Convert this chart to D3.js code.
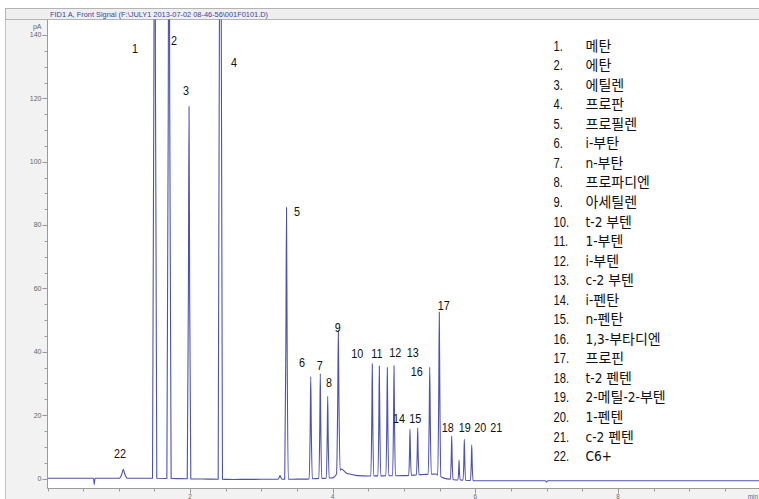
<!DOCTYPE html>
<html>
<head>
<meta charset="utf-8">
<script src="https://cdn.jsdelivr.net/npm/d3@7/dist/d3.min.js"></script>
<style>
  html, body { margin: 0; padding: 0; background: #f3f3f3; }
  svg { display: block; }
</style>
</head>
<body>
<svg id="chart" width="759" height="499"></svg>
<script>
// ---- Peak table (retention time in min, height in pA) ----
const peakNumbers    = [22, 1, 2, 3, 4, 5, 6, 7, 8, 9, 10, 11, 12, 13, 14, 15, 16, 17, 18, 19, 20, 21];
const retentionTimes = [1.063, 1.503, 1.704, 1.985, 2.424, 3.352, 3.692, 3.826, 3.930, 4.079,
                        4.555, 4.654, 4.766, 4.860, 5.084, 5.192, 5.361, 5.495, 5.669, 5.772, 5.846, 5.950];
const peakHeights    = [2.8, 260, 230, 117.5, 330, 85.8, 32.3, 33.1, 25.8, 44.7,
                        35.4, 34.7, 34.2, 34.7, 14.6, 14.8, 33.8, 51.7, 13.7, 6.3, 12.9, 11.3];
const peakHalfWidths = [0.055, 0.03, 0.03, 0.025, 0.03, 0.025, 0.022, 0.02, 0.02, 0.025,
                        0.02, 0.02, 0.02, 0.02, 0.018, 0.018, 0.022, 0.022, 0.018, 0.015, 0.018, 0.018];

// Small unlabelled features of the trace (time, pA)
const minorTimes   = [0.656, 3.261, 7.0];
const minorHeights = [-2.0, 1.2, -0.4];
const minorHalfWidths = [0.012, 0.03, 0.02];

// Baseline drift (time, pA)
const baselineTimes  = [0, 1.4, 2.6, 3.6, 4.0, 4.12, 4.2, 4.35, 4.5, 5.0, 5.3, 5.45, 5.55, 5.7, 6.0, 10];
const baselineValues = [0.1, 0.1, -0.3, -0.2, 0.2, 3.0, 1.6, 0.9, 0.8, 0.9, 1.3, 1.4, 0.2, -0.4, -0.7, -0.7];

// ---- Axis ticks ----
const xMajorTicks = [2, 4, 6, 8];
const xMinorTicks = d3.range(0, 10.01, 0.5);
const yMajorTicks = [0, 20, 40, 60, 80, 100, 120, 140];
const yMinorTicks = d3.range(0, 141, 5);

// ---- Legend ----
const compoundNames = ["메탄", "에탄", "에틸렌", "프로판", "프로필렌", "i-부탄", "n-부탄", "프로파디엔",
  "아세틸렌", "t-2 부텐", "1-부텐", "i-부텐", "c-2 부텐", "i-펜탄", "n-펜탄", "1,3-부타디엔",
  "프로핀", "t-2 펜텐", "2-메틸-2-부텐", "1-펜텐", "c-2 펜텐", "C6+"];

const titleText = "FID1 A, Front Signal (F:\\JULY1 2013-07-02 08-46-56\\001F0101.D)";

// ---- Peak label placement (min, pA) ----
const labelTimes  = [1.017, 1.227, 1.774, 1.942, 2.616, 3.499, 3.569, 3.818, 3.948, 4.070,
                     4.345, 4.621, 4.878, 5.122, 4.930, 5.158, 5.178, 5.557, 5.613, 5.851, 6.070, 6.295];
const labelLevels = [8.0, 135.8, 138.3, 122.6, 131.4, 84.4, 36.8, 35.8, 30.3, 47.9,
                     39.7, 39.7, 39.9, 39.9, 19.0, 19.0, 33.9, 54.7, 16.3, 16.3, 16.3, 16.3];

// ---- Layout ----
const W = 759, H = 499;
const plot = { left: 47.5, right: 759, top: 19.5, bottom: 488.5 };
const narrow = 0.8;   // horizontal squeeze for the condensed label face
const labelFont = "Liberation Sans, Arial, sans-serif";

const svg = d3.select("#chart");
const x = d3.scaleLinear().domain([0, 10]).range([47.5, 760.5]);
const y = d3.scaleLinear().domain([0, 140]).range([478.5, 35]);
const baseline = d3.scaleLinear().domain(baselineTimes).range(baselineValues).clamp(true);

// panel backgrounds
svg.append("rect").attr("x", 0).attr("y", 0).attr("width", W).attr("height", H).attr("fill", "#ffffff");
svg.append("rect").attr("x", 5.5).attr("y", 8.5).attr("width", W).attr("height", H)
  .attr("fill", "#f2f2f2").attr("stroke", "#c4c4c4");
svg.append("rect").attr("x", plot.left).attr("y", plot.top)
  .attr("width", plot.right - plot.left).attr("height", plot.bottom - plot.top)
  .attr("fill", "#ffffff");

// title bar
svg.append("rect").attr("x", 5.5).attr("y", 8.5).attr("width", W).attr("height", 11)
  .attr("fill", "#efefef").attr("stroke", "#b4b4b4");
svg.append("text").attr("x", 50).attr("y", 16.8)
  .attr("font-family", "Liberation Sans, Arial, sans-serif").attr("font-size", 7.4)
  .attr("fill", "#3d43a3").text(titleText);

// ---- Trace ----
// Trace points: baseline knots plus a narrow profile (start, flanks, apex, end) per peak
const allTimes   = retentionTimes.concat(minorTimes);
const allHeights = peakHeights.concat(minorHeights);
const allHalf    = peakHalfWidths.concat(minorHalfWidths);
const spans = allTimes.map((t, i) => [t - allHalf[i], t + allHalf[i]]);
let pts = [];
baselineTimes.forEach(t => {
  if (!spans.some(s => t > s[0] && t < s[1])) pts.push([t, baseline(t)]);
});
d3.range(0, 10.01, 0.25).forEach(t => {
  if (!spans.some(s => t > s[0] - 0.01 && t < s[1] + 0.01)) pts.push([t, baseline(t)]);
});
allTimes.forEach((t, i) => {
  const a = t - allHalf[i], b = t + allHalf[i];
  pts.push([a, baseline(a)]);
  pts.push([t - allHalf[i] * 0.35, baseline(t) + allHeights[i] * 0.5]);
  pts.push([t, baseline(t) + allHeights[i]]);
  pts.push([t + allHalf[i] * 0.35, baseline(t) + allHeights[i] * 0.5]);
  pts.push([b, baseline(b)]);
});
pts.sort((p, q) => p[0] - q[0]);

svg.append("clipPath").attr("id", "plotClip").append("rect")
  .attr("x", plot.left).attr("y", plot.top).attr("width", plot.right - plot.left)
  .attr("height", plot.bottom - plot.top);

const line = d3.line().x(d => x(d[0])).y(d => y(d[1])).curve(d3.curveMonotoneX);
svg.append("path").datum(pts).attr("clip-path", "url(#plotClip)")
  .attr("d", line).attr("fill", "none").attr("stroke", "#4d52b0")
  .attr("stroke-width", 1.1).attr("stroke-linejoin", "round");

// ---- Axes ----
const axisColor = "#9a9a9a";
svg.append("line").attr("x1", plot.left).attr("x2", plot.left).attr("y1", plot.top).attr("y2", plot.bottom)
  .attr("stroke", axisColor);
svg.append("line").attr("x1", plot.left).attr("x2", W).attr("y1", plot.bottom).attr("y2", plot.bottom)
  .attr("stroke", axisColor);

const yAxis = svg.append("g");
yAxis.selectAll("line.minor").data(yMinorTicks.filter(v => !yMajorTicks.includes(v))).join("line")
  .attr("x1", plot.left - 3).attr("x2", plot.left).attr("y1", d => Math.round(y(d)) + 0.5).attr("y2", d => Math.round(y(d)) + 0.5)
  .attr("stroke", axisColor);
yAxis.selectAll("line.major").data(yMajorTicks).join("line")
  .attr("x1", plot.left - 5).attr("x2", plot.left).attr("y1", d => Math.round(y(d)) + 0.5).attr("y2", d => Math.round(y(d)) + 0.5)
  .attr("stroke", axisColor);
yAxis.selectAll("text").data(yMajorTicks).join("text")
  .attr("x", plot.left - 6).attr("y", d => y(d) + 2.4).attr("text-anchor", "end")
  .attr("font-family", "Liberation Sans, Arial, sans-serif").attr("font-size", 7)
  .attr("fill", "#666").text(d => d);
svg.append("text").attr("x", plot.left - 6).attr("y", y(140) - 6).attr("text-anchor", "end")
  .attr("font-family", "Liberation Sans, Arial, sans-serif").attr("font-size", 7)
  .attr("fill", "#666").text("pA");

const xAxis = svg.append("g");
xAxis.selectAll("line.minor").data(xMinorTicks).join("line")
  .attr("x1", d => Math.round(x(d)) + 0.5).attr("x2", d => Math.round(x(d)) + 0.5)
  .attr("y1", plot.bottom).attr("y2", d => plot.bottom + (xMajorTicks.includes(d) ? 5 : 3))
  .attr("stroke", axisColor);
xAxis.selectAll("text").data(xMajorTicks).join("text")
  .attr("x", d => x(d)).attr("y", 498.5).attr("text-anchor", "middle")
  .attr("font-family", "Liberation Sans, Arial, sans-serif").attr("font-size", 6.3)
  .attr("fill", "#666").text(d => d);
svg.append("text").attr("x", 758).attr("y", 498.5).attr("text-anchor", "end")
  .attr("font-family", "Liberation Sans, Arial, sans-serif").attr("font-size", 6.3)
  .attr("fill", "#666").text("min");

// ---- Peak labels (condensed digits) ----
svg.append("g").selectAll("text").data(peakNumbers).join("text")
  .attr("transform", (d, i) => `translate(${x(labelTimes[i])},${y(labelLevels[i]) + 4.8}) scale(${narrow},1)`)
  .attr("text-anchor", "middle")
  .attr("font-family", labelFont).attr("font-size", 13.5)
  .attr("fill", "#111").text(d => d);

// ---- Legend ----
const legend = svg.append("g").attr("font-size", 14).attr("fill", "#111");
compoundNames.forEach((name, i) => {
  const yy = 45.7 + i * 19.54 + 5;
  legend.append("text").attr("transform", `translate(553.5,${yy}) scale(${narrow},1)`)
    .attr("font-family", labelFont).text((i + 1) + ".");
  // Latin parts in a condensed face, hangul in the CJK face
  const t = legend.append("text").attr("x", 585.5).attr("y", yy);
  name.split(/([\uAC00-\uD7A3]+)/).filter(s => s.length).forEach(part => {
    const hangul = /[\uAC00-\uD7A3]/.test(part);
    t.append("tspan")
      .attr("font-family", hangul ? "Noto Sans CJK KR, sans-serif" : "DejaVu Sans Condensed, Liberation Sans, sans-serif")
      .attr("font-stretch", hangul ? null : "condensed")
      .attr("font-size", hangul ? 14 : 13.5)
      .text(part);
  });
});
</script>
</body>
</html>
